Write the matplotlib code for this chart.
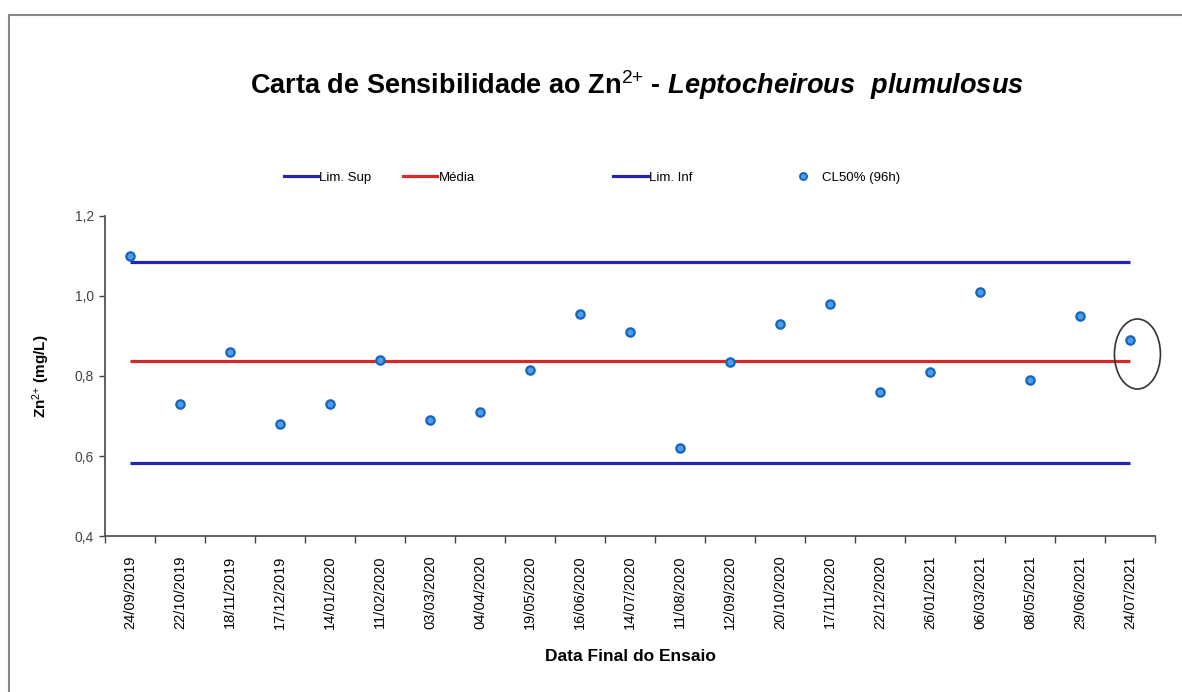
import matplotlib
matplotlib.use('Agg')
import matplotlib.pyplot as plt
from matplotlib.patches import Ellipse
from matplotlib.lines import Line2D
from matplotlib.ticker import FuncFormatter
import numpy as np

plt.rcParams['font.family'] = ['Liberation Sans', 'DejaVu Sans']
plt.rcParams['mathtext.fontset'] = 'custom'
plt.rcParams['mathtext.rm'] = 'Liberation Sans'
plt.rcParams['mathtext.it'] = 'Liberation Sans:italic:bold'
plt.rcParams['mathtext.bf'] = 'Liberation Sans:bold'

# Data
dates = ['24/09/2019', '22/10/2019', '18/11/2019', '17/12/2019', '14/01/2020',
         '11/02/2020', '03/03/2020', '04/04/2020', '19/05/2020', '16/06/2020',
         '14/07/2020', '11/08/2020', '12/09/2020', '20/10/2020', '17/11/2020',
         '22/12/2020', '26/01/2021', '06/03/2021', '08/05/2021', '29/06/2021',
         '24/07/2021']
cl50 = [1.10, 0.73, 0.86, 0.68, 0.73, 0.84, 0.69, 0.71, 0.815, 0.955,
        0.91, 0.62, 0.835, 0.93, 0.98, 0.76, 0.81, 1.01, 0.79, 0.95, 0.89]
lim_sup = 1.085
media = 0.837
lim_inf = 0.583

BLUE_LINE = '#2323b4'
RED_LINE = '#d42a2a'
PT_FACE = '#4c9ee6'
PT_EDGE = '#1565c0'

fig = plt.figure(figsize=(11.82, 6.92), dpi=100)
ax = fig.add_axes([0.0888, 0.2254, 0.8883, 0.4625])

x = np.arange(len(dates))
ax.plot([x[0], x[-1]], [lim_sup, lim_sup], color=BLUE_LINE, lw=2.3, solid_capstyle='butt', zorder=2)
ax.plot([x[0], x[-1]], [media, media], color=RED_LINE, lw=2.3, solid_capstyle='butt', zorder=2)
ax.plot([x[0], x[-1]], [lim_inf, lim_inf], color=BLUE_LINE, lw=2.3, solid_capstyle='butt', zorder=2)
ax.plot(x, cl50, 'o', ms=6, mfc=PT_FACE, mec=PT_EDGE, mew=1.6, ls='none', zorder=3)

# circled last result
ax.add_patch(Ellipse((x[-1] + 0.15, cl50[-1] - 0.035), width=0.92, height=0.175,
                     fill=False, edgecolor='#333333', lw=1.2, zorder=4, clip_on=False))

ax.set_xlim(-0.5, len(dates) - 0.5)
ax.set_ylim(0.4, 1.2)
ax.set_yticks([0.4, 0.6, 0.8, 1.0, 1.2])
ax.yaxis.set_major_formatter(FuncFormatter(lambda v, p: f'{v:.1f}'.replace('.', ',')))

# category labels at centres, tick marks between categories
ax.set_xticks(x)
ax.set_xticklabels(dates, rotation=90, fontsize=10.5)
ax.set_xticks(np.arange(len(dates) + 1) - 0.5, minor=True)
ax.tick_params(axis='x', which='major', length=0, pad=14)
ax.tick_params(axis='x', which='minor', length=5, width=1, color='#444444', direction='out')
ax.tick_params(axis='y', length=4, width=1, color='#444444', labelsize=10,
               labelcolor='#444444', pad=4)

for s in ['top', 'right']:
    ax.spines[s].set_visible(False)
for s in ['left', 'bottom']:
    ax.spines[s].set_color('#555555')
    ax.spines[s].set_linewidth(1.3)

ax.set_ylabel(r'Zn$^{\mathrm{2{+}}}$ (mg/L)', fontsize=11, fontweight='bold', labelpad=16)
ax.set_xlabel('Data Final do Ensaio', fontsize=12.5, fontweight='bold', labelpad=14)

fig.text(0.539, 0.877,
         r'Carta de Sensibilidade ao Zn$^{\mathrm{2{+}}}$ - $\mathit{Leptocheirous\ \ plumulosus}$',
         ha='center', va='center', fontsize=19.5, fontweight='bold')

# legend entries placed individually, as in the reference
entries = [
    (Line2D([], [], color=BLUE_LINE, lw=2.3), 'Lim. Sup', 0.240),
    (Line2D([], [], color=RED_LINE, lw=2.3), 'Média', 0.341),
    (Line2D([], [], color=BLUE_LINE, lw=2.3), 'Lim. Inf', 0.519),
    (Line2D([], [], marker='o', ls='none', ms=5, mfc=PT_FACE, mec=PT_EDGE, mew=1.4),
     'CL50% (96h)', 0.665),
]
for h, lab, xpos in entries:
    fig.legend([h], [lab], loc='center left', bbox_to_anchor=(xpos, 0.743),
               frameon=False, fontsize=9.5, handlelength=2.6, handletextpad=0.1,
               borderaxespad=0, borderpad=0)

# outer frame (only top and left visible in the reference)
fig.add_artist(Line2D([0.008, 1.0], [0.978, 0.978], transform=fig.transFigure,
                      color='#888888', lw=1.5))
fig.add_artist(Line2D([0.008, 0.008], [0.0, 0.978], transform=fig.transFigure,
                      color='#888888', lw=1.5))

fig.savefig('out.png', dpi=100)
